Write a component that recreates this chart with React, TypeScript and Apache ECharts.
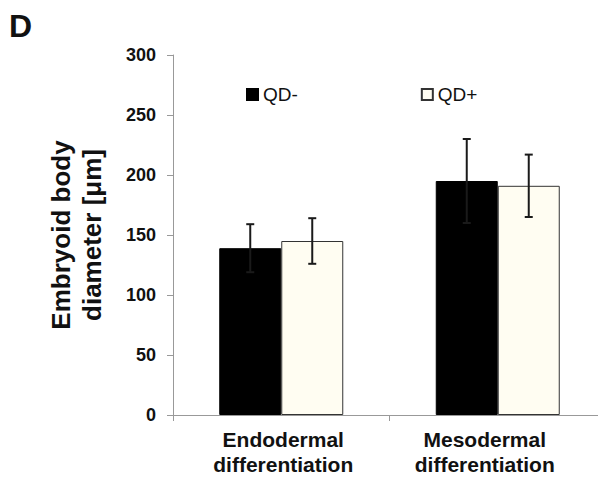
import React, { useEffect, useRef } from "react";
import * as echarts from "echarts";

const categories = ["Endodermal\ndifferentiation", "Mesodermal\ndifferentiation"];
const seriesNames = ["QD-", "QD+"];
const qdMinus = [139, 195];
const qdMinusErr = [20, 35];
const qdPlus = [145, 191];
const qdPlusErr = [19, 26];
const yTicks = [0, 50, 100, 150, 200, 250, 300];

const FONT = "'Liberation Sans', Arial, sans-serif";

export default function App() {
  const ref = useRef<HTMLDivElement>(null);
  useEffect(() => {
    if (!ref.current) return;
    const chart = echarts.init(ref.current, null, { renderer: "svg" });
    const barW = 62;
    const makeErr = (vals: number[], errs: number[], offset: number, name: string) => ({
      type: "custom",
      name: name + " err",
      z: 10,
      data: vals.map((v, i) => [i, v, errs[i]]),
      renderItem: (params: any, api: any) => {
        const i = api.value(0);
        const v = api.value(1);
        const e = api.value(2);
        const top = api.coord([i, v + e]);
        const bot = api.coord([i, v - e]);
        const x = top[0] + offset;
        const cap = 4;
        const style = { stroke: "#1a1a1a", lineWidth: 2 };
        return {
          type: "group",
          children: [
            { type: "line", shape: { x1: x, y1: top[1], x2: x, y2: bot[1] }, style },
            { type: "line", shape: { x1: x - cap, y1: top[1], x2: x + cap, y2: top[1] }, style },
            { type: "line", shape: { x1: x - cap, y1: bot[1], x2: x + cap, y2: bot[1] }, style },
          ],
        };
      },
    });
    const catStyle = {
      fontFamily: FONT,
      fontSize: 21,
      fontWeight: "bold",
      color: "#111",
      lineHeight: 25,
    };
    chart.setOption({
      animation: false,
      backgroundColor: "#ffffff",
      textStyle: { fontFamily: FONT },
      grid: { left: 165, right: -4, top: 47, bottom: 68 },
      legend: {
        data: seriesNames,
        left: 233,
        top: 72,
        itemWidth: 11,
        itemHeight: 11,
        itemGap: 123,
        icon: "rect",
        textStyle: { fontFamily: FONT, fontSize: 19, color: "#111" },
      },
      graphic: [
        {
          type: "text",
          left: 1,
          top: 2,
          style: { text: "D", font: `bold 32px ${FONT}`, fill: "#111" },
        },
      ],
      xAxis: {
        type: "category",
        data: categories,
        axisLine: { lineStyle: { color: "#999", width: 1 } },
        axisTick: { show: true, alignWithLabel: false, length: 6, lineStyle: { color: "#999" } },
        axisLabel: {
          ...catStyle,
          interval: 0,
          hideOverlap: false,
          margin: 12,
          formatter: (val: string, idx: number) =>
            val
              .split("\n")
              .map((s) => (idx === 1 ? `{m|${s}}` : `{e|${s}}`))
              .join("\n"),
          rich: {
            e: { ...catStyle, padding: [0, 0, 0, 4] },
            m: { ...catStyle, padding: [0, 26, 0, 0] },
          },
        },
      },
      yAxis: {
        type: "value",
        min: 0,
        max: 300,
        interval: 50,
        name: "Embryoid body\ndiameter [μm]",
        nameLocation: "middle",
        nameRotate: 90,
        nameGap: 66,
        nameTextStyle: {
          fontFamily: FONT,
          fontSize: 26,
          fontWeight: "bold",
          color: "#111",
          lineHeight: 31,
          padding: [0, 0, 0, 0],
        },
        axisLine: { show: true, lineStyle: { color: "#999", width: 1 } },
        axisTick: { show: true, length: 6, lineStyle: { color: "#999" } },
        splitLine: { show: false },
        axisLabel: {
          fontFamily: FONT,
          fontSize: 18,
          fontWeight: "bold",
          color: "#111",
          margin: 17,
          formatter: (v: number) => (yTicks.includes(v) ? String(v) : ""),
        },
      },
      series: [
        {
          type: "bar",
          name: seriesNames[0],
          data: qdMinus,
          barWidth: barW,
          barGap: "0%",
          itemStyle: { color: "#000000", borderColor: "#000", borderWidth: 1 },
        },
        {
          type: "bar",
          name: seriesNames[1],
          data: qdPlus,
          barWidth: barW,
          barGap: "0%",
          itemStyle: { color: "#fffdf2", borderColor: "#333", borderWidth: 1 },
        },
        makeErr(qdMinus, qdMinusErr, -barW / 2, seriesNames[0]),
        makeErr(qdPlus, qdPlusErr, barW / 2, seriesNames[1]),
      ],
    });
    return () => chart.dispose();
  }, []);
  return <div ref={ref} style={{ width: 598, height: 475 }} />;
}
